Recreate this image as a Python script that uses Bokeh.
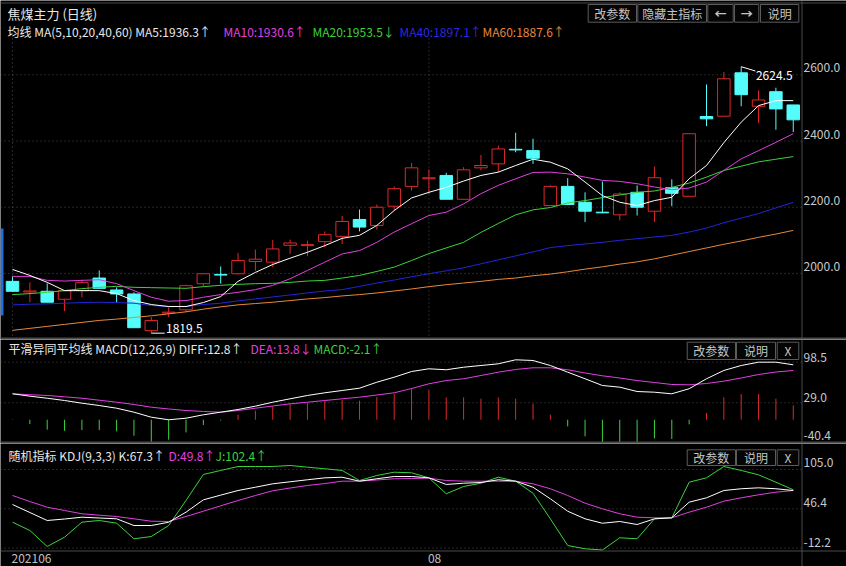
from bokeh.plotting import figure
from bokeh.layouts import column
from bokeh.models import Range1d, Span, Label, ColumnDataSource
from bokeh.embed import file_html
from bokeh.resources import INLINE

# ---------------- data ----------------
idx = list(range(46))
open_p = [1976, 1944, 1946, 1922, 1948, 1986, 1950, 1938, 1827, 1880, 1890, 1969, 1997, 1999, 2036, 2034,
          2085, 2084, 2096, 2112, 2163, 2145, 2203, 2263, 2286, 2296, 2224, 2319, 2331, 2375, 2371, 2205,
          2263, 2215, 2185, 2177, 2245, 2188, 2259, 2233, 2474, 2475, 2606, 2505, 2549, 2509]
high_p = [1991, 1973, 1970, 1950, 1981, 2009, 1958, 1943, 1868, 1898, 1966, 2000, 2021, 2062, 2072, 2101,
          2102, 2099, 2127, 2174, 2193, 2208, 2263, 2334, 2314, 2304, 2321, 2358, 2386, 2425, 2407, 2266,
          2288, 2245, 2278, 2245, 2266, 2323, 2284, 2422, 2571, 2608, 2624.5, 2553, 2561, 2509]
low_p = [1944, 1913, 1913, 1886, 1928, 1955, 1913, 1835, 1819.5, 1868, 1883, 1961, 1969, 1997, 2008, 2019,
         2059, 2052, 2079, 2089, 2127, 2132, 2190, 2250, 2240, 2224, 2224, 2311, 2306, 2366, 2331, 2205,
         2208, 2155, 2182, 2160, 2175, 2155, 2203, 2233, 2445, 2475, 2505, 2454, 2434, 2427]
close_p = [1946, 1947, 1913, 1948, 1972, 1955, 1938, 1836, 1858, 1883, 1963, 1999, 1995, 2039, 2043, 2074,
           2092, 2087, 2117, 2157, 2140, 2200, 2256, 2319, 2289, 2224, 2313, 2326, 2376, 2373, 2348, 2263,
           2208, 2188, 2183, 2240, 2200, 2289, 2242, 2422, 2467, 2588, 2540, 2524, 2497, 2464]

ma5 = [2012, 1994, 1973, 1948, 1948, 1948, 1939, 1918, 1906, 1900, 1900, 1912, 1930, 1976, 2003, 2027,
       2046, 2064, 2084, 2106, 2115, 2145, 2190, 2228, 2245, 2260, 2279, 2296, 2306, 2326, 2345, 2336,
       2316, 2276, 2235, 2215, 2205, 2220, 2230, 2286, 2326, 2395, 2457, 2507, 2522, 2522]
ma10 = [1991, 1991, 1979, 1977, 1979, 1981, 1969, 1948, 1928, 1916, 1918, 1928, 1936, 1943, 1951, 1964,
        1984, 2009, 2034, 2059, 2069, 2094, 2125, 2150, 2175, 2185, 2210, 2241, 2266, 2286, 2305, 2306,
        2301, 2291, 2281, 2278, 2271, 2261, 2253, 2258, 2276, 2311, 2346, 2371, 2396, 2422]
ma20 = [1936, 1939, 1943, 1948, 1954, 1958, 1961, 1958, 1957, 1956, 1955, 1960, 1964, 1967, 1969, 1970,
        1973, 1977, 1979, 1986, 1994, 2006, 2019, 2039, 2060, 2077, 2094, 2124, 2151, 2177, 2192, 2199,
        2213, 2220, 2229, 2237, 2245, 2249, 2260, 2273, 2291, 2311, 2324, 2337, 2345, 2353]
ma40 = [1905, 1907, 1908, 1910, 1912, 1913, 1912, 1910, 1903, 1900, 1900, 1906, 1910, 1917, 1923, 1929,
        1935, 1941, 1947, 1951, 1961, 1971, 1980, 1990, 1999, 2008, 2017, 2029, 2041, 2053, 2065, 2078,
        2084, 2089, 2094, 2100, 2105, 2110, 2115, 2125, 2137, 2153, 2167, 2181, 2198, 2215]
ma60 = [1828, 1834, 1840, 1846, 1852, 1858, 1862, 1867, 1872, 1878, 1884, 1892, 1899, 1905, 1909, 1913,
        1918, 1923, 1927, 1932, 1936, 1941, 1947, 1953, 1960, 1966, 1971, 1976, 1982, 1986, 1993, 1998,
        2005, 2013, 2020, 2028, 2035, 2044, 2055, 2066, 2077, 2088, 2098, 2109, 2119, 2130]

diff = [44.4, 40.3, 36.8, 32.9, 28.3, 24.3, 19.7, 12.9, 4.3, -0.1, 2.6, 8.4, 12.9, 17.5, 23.2, 30.0,
        35.8, 41.5, 46.1, 50.0, 54.0, 64.2, 72.8, 82.5, 87.2, 85.5, 89.9, 92.8, 95.7, 102.6, 101.4, 92.8,
        81.4, 70.1, 58.6, 55.7, 48.3, 47.1, 44.4, 53.0, 70.1, 84.3, 92.8, 98.5, 98.5, 94.0]
dea = [44.4, 42.8, 41.5, 39.2, 36.8, 33.4, 30.0, 26.1, 21.4, 18.4, 15.8, 14.1, 12.9, 15.8, 19.7, 23.5,
       27.2, 30.0, 32.9, 35.8, 38.6, 42.3, 46.1, 53.4, 61.5, 67.1, 70.1, 75.7, 81.4, 86.0, 88.9, 88.9,
       85.5, 80.0, 75.2, 71.4, 67.1, 63.7, 60.3, 59.8, 62.0, 66.0, 71.4, 77.4, 81.7, 84.3]
macd = [0.8, -7.4, -17.0, -19.0, -17.7, -17.7, -20.0, -27.4, -37.7, -34.2, -21.7, -9.1, -1.5, 8.6, 15.4, 22.8,
        26.8, 28.5, 32.5, 34.2, 32.5, 38.8, 44.0, 54.2, 51.4, 38.2, 38.2, 36.0, 38.2, 36.0, 27.4, 8.6,
        -11.4, -28.5, -40.0, -40.0, -41.6, -32.0, -33.0, -8.0, 11.4, 38.2, 44.0, 44.0, 36.0, 24.5]

k_val = [52.8, 40.9, 29.0, 31.2, 33.9, 32.7, 31.5, 21.5, 21.5, 26.4, 41.4, 59.8, 66.8, 73.7, 78.6, 83.7,
         86.7, 89.7, 92.6, 93.5, 87.6, 91.2, 94.6, 94.6, 92.6, 82.7, 84.6, 85.6, 89.7, 87.6, 78.6, 61.3,
         42.8, 31.5, 24.9, 27.5, 23.0, 31.5, 33.0, 56.3, 62.8, 73.7, 76.3, 77.7, 76.3, 73.7]
d_val = [66.3, 57.3, 48.8, 43.9, 39.0, 36.9, 34.9, 31.5, 27.9, 27.5, 34.9, 42.8, 50.9, 58.8, 66.3, 73.3,
         77.4, 81.2, 84.1, 87.6, 87.6, 89.4, 91.2, 91.6, 92.1, 88.6, 87.6, 87.6, 87.6, 87.6, 83.7, 76.3,
         66.3, 54.8, 46.4, 39.0, 33.9, 33.0, 33.0, 41.4, 48.8, 57.8, 62.8, 67.3, 71.2, 73.7]
j_val = [26.5, 14.1, -9.8, 4.1, 26.5, 29.0, 25.0, 1.7, 5.1, 21.5, 58.8, 97.6, 103.6, 109.5, 109.5, 109.5,
         111.0, 108.5, 106.1, 103.6, 88.6, 96.1, 101.0, 100.1, 92.6, 68.8, 79.7, 84.6, 93.5, 87.6, 69.7, 31.5,
         -8.3, -13.2, -15.0, 3.2, 1.7, 31.5, 33.0, 86.1, 92.6, 109.5, 103.6, 97.1, 86.1, 74.8]

price_ticks = [2600.0, 2400.0, 2200.0, 2000.0]
macd_ticks = [98.5, 29.0, -40.4]
kdj_ticks = [105.0, 46.4, -12.2]
month_ticks = [0, 24]
month_labels = ["202106", "08"]

title_text = "焦煤主力 (日线)"
ma_legend = [("均线 MA(5,10,20,40,60) MA5:1936.3↑", "white"), ("MA10:1930.6↑", "mag"),
             ("MA20:1953.5↓", "grn"), ("MA40:1897.1↑", "blu"), ("MA60:1887.6↑", "org")]
macd_legend = [("平滑异同平均线 MACD(12,26,9) DIFF:12.8↑", "white"), ("DEA:13.8↓", "mag"), ("MACD:-2.1↑", "grn")]
kdj_legend = [("随机指标 KDJ(9,3,3) K:67.3↑", "white"), ("D:49.8↑", "mag"), ("J:102.4↑", "grn")]
hi_label, lo_label = "2624.5", "1819.5"

# ---------------- style ----------------
W = 846
PXU = 17.35
X0 = -12 / PXU
X1 = (W - 12) / PXU
FONT = "Noto Sans CJK SC"
BG = "#000000"
GRIDC = "#4e4e4e"
SEPC = "#4a4a4a"
TXT = "#e8e8e8"
AXT = "#c8c8c8"
RED = "#e02828"
CYAN = "#54fcfc"
COL = {"white": TXT, "mag": "#e040e0", "grn": "#3cd23c", "blu": "#2a2ae0", "org": "#e8883a"}
MA_COLORS = ["#ffffff", "#e040e0", "#3cd23c", "#2424d8", "#e8883a"]

xr = Range1d(X0, X1)


def px_x(px):
    return X0 + px / PXU


SEP_X = px_x(801.5)


def make_fig(H, ybot, ytop):
    p = figure(width=W, height=H, x_range=xr, y_range=Range1d(ybot, ytop), output_backend="svg",
               toolbar_location=None, x_axis_location=None, y_axis_location=None, min_border=0, title=None)
    p.background_fill_color = BG
    p.border_fill_color = BG
    p.outline_line_color = None
    p.xgrid.visible = False
    p.ygrid.visible = False
    return p


class Panel:
    def __init__(self, H, T, ybot, ytop):
        self.H, self.T, self.ybot, self.ytop = H, T, ybot, ytop
        self.p = make_fig(H, ybot, ytop)

    def yd(self, py):
        return self.ytop - (py - self.T) * (self.ytop - self.ybot) / self.H

    def text(self, x, yc, s, color=TXT, size=12, align="left", baseline="middle", bold=False):
        self.p.add_layout(Label(x=x, y=self.H - (yc - self.T), x_units="screen", y_units="screen", text=s,
                                text_color=color, text_font=FONT, text_font_size=f"{size}px",
                                text_align=align, text_baseline=baseline,
                                text_font_style="bold" if bold else "normal"))

    def button(self, x0, x1, y0, y1, s, bold=False):
        self.p.quad(left=px_x(x0), right=px_x(x1), top=self.yd(y0), bottom=self.yd(y1),
                    fill_color="#050505", line_color="#5c5c5c", line_width=1)
        self.text((x0 + x1) / 2, (y0 + y1) / 2, s, color="#c4c4c4", align="center", bold=bold)

    def grid(self, ticks, fmt, offs):
        for t, off in zip(ticks, offs):
            self.p.segment(x0=X0, x1=SEP_X, y0=t, y1=t, line_color=GRIDC, line_dash="1 3", line_width=1)
            self.p.add_layout(Label(x=803, y=t, x_units="screen", y_units="data", text=fmt.format(t),
                                    text_color=AXT, text_font=FONT, text_font_size="12px",
                                    text_align="left", text_baseline="middle", y_offset=off))

    def hsep(self, py, width=1):
        self.p.add_layout(Span(location=self.yd(py), dimension="width", line_color=SEPC, line_width=width))

    def vsep(self):
        self.p.add_layout(Span(location=SEP_X, dimension="height", line_color=SEPC, line_width=1))


# ---------------- main panel ----------------
main = Panel(339, 0, 2824.5 - 339 * 3.021, 2824.5)
pm = main.p
main.grid(price_ticks, "{:.1f}", [7, 7, 7, 7])
for m in month_ticks:
    pm.segment(x0=m, x1=m, y0=main.ybot, y1=main.yd(38), line_color=GRIDC, line_dash="1 3")

up = [c >= o for o, c in zip(open_p, close_p)]
src = ColumnDataSource(dict(
    x=idx, o=open_p, h=high_p, l=low_p, c=close_p,
    top=[max(o, c) for o, c in zip(open_p, close_p)],
    bot=[min(o, c) for o, c in zip(open_p, close_p)],
    col=[RED if u else CYAN for u in up],
    fill=[BG if u else CYAN for u in up],
))
pm.segment(x0="x", x1="x", y0="l", y1="h", line_color="col", line_width=1, source=src)
pm.vbar(x="x", width=0.72, top="top", bottom="bot", fill_color="fill", line_color="col", line_width=1, source=src)

for ser, colr in zip([ma60, ma40, ma20, ma10, ma5], MA_COLORS[::-1]):
    pm.line(idx, ser, line_color=colr, line_width=1)

# high / low markers
i_hi = high_p.index(max(high_p))
i_lo = low_p.index(min(low_p))
pm.segment(x0=i_hi, y0=high_p[i_hi], x1=i_hi + 0.82, y1=high_p[i_hi] - 13, line_color="white", line_width=1)
pm.add_layout(Label(x=i_hi + 0.85, y=high_p[i_hi] - 13, text=hi_label, text_color="white", text_font=FONT,
                    text_font_size="12px", text_align="left", text_baseline="top", x_offset=0))
pm.segment(x0=i_lo, y0=low_p[i_lo], x1=i_lo + 0.77, y1=low_p[i_lo], line_color="white", line_width=1)
pm.add_layout(Label(x=i_lo + 0.85, y=low_p[i_lo], text=lo_label, text_color="white", text_font=FONT,
                    text_font_size="12px", text_align="left", text_baseline="bottom"))

main.hsep(2.5)
main.hsep(338, 2)
main.vsep()
pm.quad(left=px_x(0), right=px_x(3), top=main.yd(228), bottom=main.yd(315), fill_color="#1f6fe0", line_color=None)
main.text(7, 12.7, title_text, size=13)
for (s, ck), xx in zip(ma_legend, [7, 223, 312, 399, 482]):
    main.text(xx, 31, s, color=COL[ck])
for x0, x1, s in [(587.7, 636, "改参数"), (637.3, 706, "隐藏主指标"), (707.3, 732.7, "←"),
                  (734, 758.3, "→"), (760, 798.3, "说明")]:
    main.button(x0, x1, 4, 21.7, s, bold=s in ("←", "→"))

# ---------------- MACD panel ----------------
mp = Panel(104, 339, 717.7 - 443 * 1.712, 717.7 - 339 * 1.712)
pc = mp.p
mp.grid(macd_ticks, "{:.1f}", [5, 5.5, 8])
msrc = ColumnDataSource(dict(x=idx, v=macd, z=[0] * len(idx),
                             col=[RED if v > 0 else "#3cd23c" for v in macd]))
pc.segment(x0="x", x1="x", y0="z", y1="v", line_color="col", line_width=1, source=msrc)
pc.line(idx, dea, line_color="#e040e0", line_width=1)
pc.line(idx, diff, line_color="white", line_width=1)
mp.hsep(442, 2)
mp.vsep()
for (s, ck), xx in zip(macd_legend, [8, 250, 313]):
    mp.text(xx, 348.3, s, color=COL[ck])
for x0, x1, s in [(686.7, 735, "改参数"), (736, 775, "说明"), (776.7, 798.3, "X")]:
    mp.button(x0, x1, 341.7, 359, s)

# ---------------- KDJ panel ----------------
kp = Panel(123, 443, 804.3 - 566 * 1.491, 804.3 - 443 * 1.491)
pk = kp.p
kp.grid(kdj_ticks, "{:.1f}", [7, 6.5, 6])
pk.line(idx, j_val, line_color="#3cd23c", line_width=1)
pk.line(idx, d_val, line_color="#e040e0", line_width=1)
pk.line(idx, k_val, line_color="white", line_width=1)
kp.hsep(550.5, 1)
kp.vsep()
for (s, ck), xx in zip(kdj_legend, [8, 168, 215]):
    kp.text(xx, 455, s, color=COL[ck])
for x0, x1, s in [(686.7, 735, "改参数"), (736, 775, "说明"), (776.7, 798.3, "X")]:
    kp.button(x0, x1, 449.3, 465, s)
for m, s in zip(month_ticks, month_labels):
    pk.add_layout(Label(x=m, y=kp.H - (558 - kp.T), x_units="data", y_units="screen", text=s,
                        text_color="#c0c0c0", text_font=FONT, text_font_size="12px",
                        text_align="left", text_baseline="middle", x_offset=-1))

layout = column(pm, pc, pk, spacing=0)
open("out.html", "w").write(file_html(layout, INLINE))
